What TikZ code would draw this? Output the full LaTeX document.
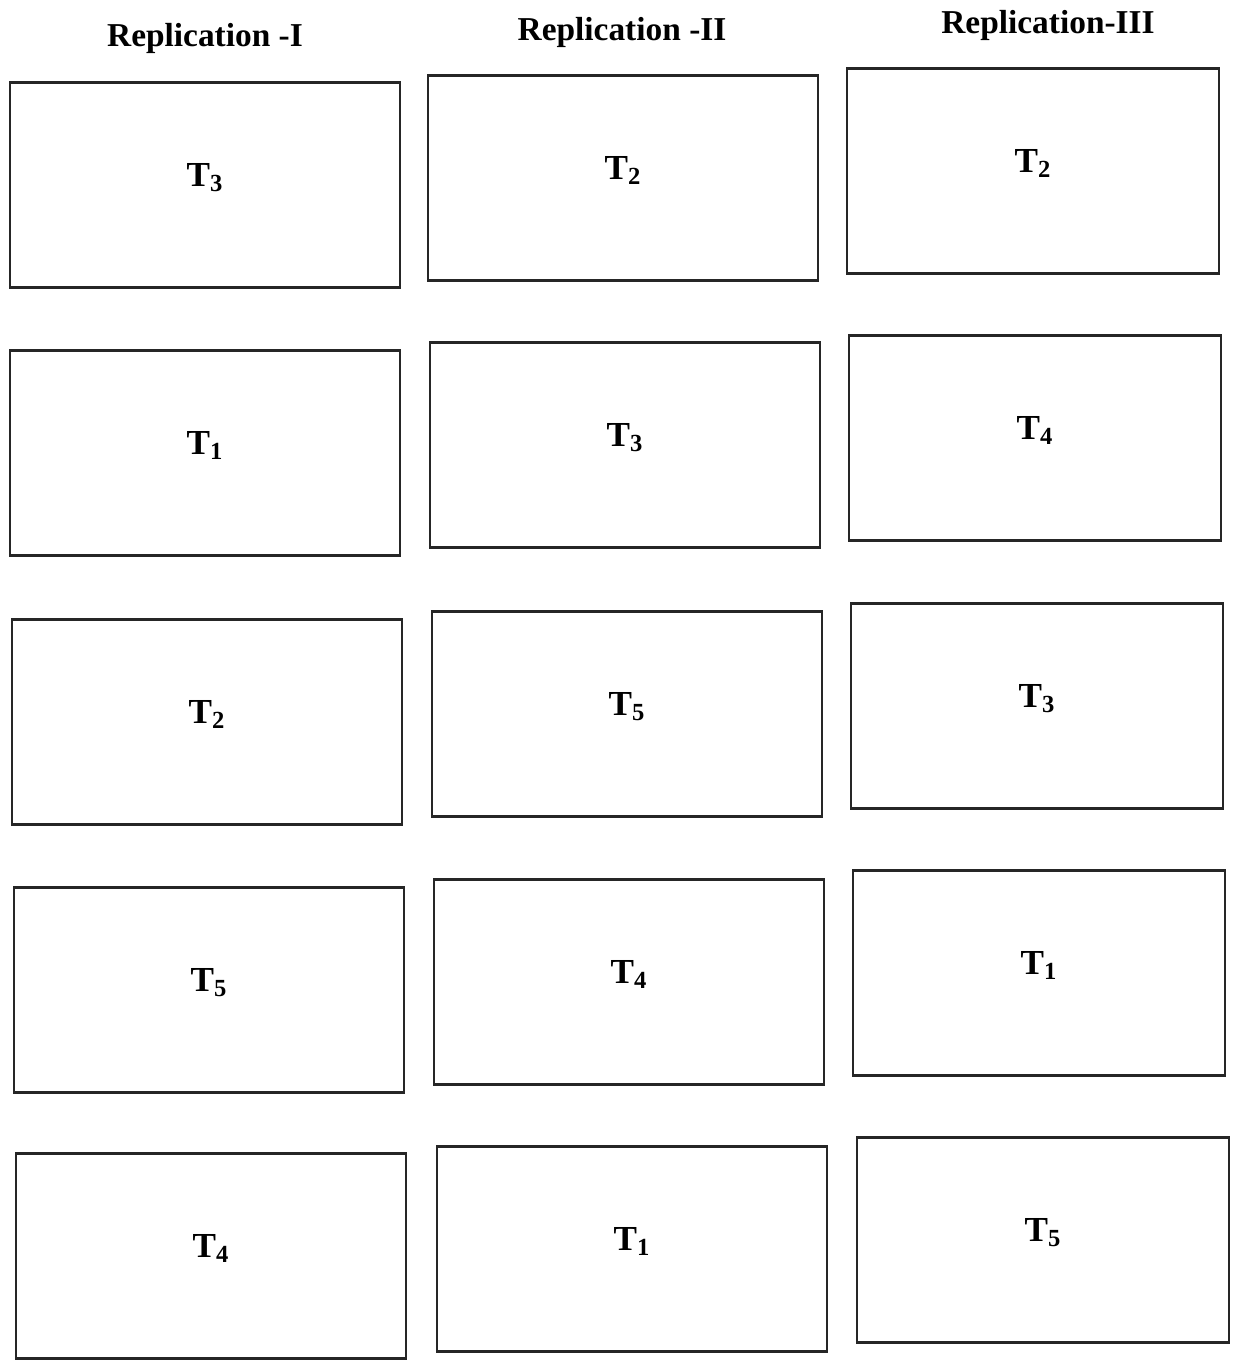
\documentclass[tikz,border=0pt]{standalone}
\usepackage{fontspec}
\setmainfont{Liberation Serif}
\usetikzlibrary{positioning}

\begin{document}
\begin{tikzpicture}[
	plot/.style={draw=black!85, line width=1.6pt, minimum width=7.8cm, minimum height=4.1cm, font=\fontsize{20}{24}\selectfont\bfseries, text depth=0.4cm, inner sep=0pt},
	head/.style={font=\fontsize{19}{23}\selectfont\bfseries, inner sep=0pt}]
	\useasboundingbox (0,0) rectangle (24.66,-27.2);
	% headings
	\node[head] (h1) at (4.10,-0.76) {Replication -I};
	\node[head] (h2) at (12.44,-0.64) {Replication -II};
	\node[head] (h3) at (20.96,-0.50) {Replication-III};
	% replication I
	\node[plot] (a1) at (4.10,-3.70) {T\textsubscript{3}};
	\node[plot] (a2) at (4.10,-9.06) {T\textsubscript{1}};
	\node[plot] (a3) at (4.14,-14.44) {T\textsubscript{2}};
	\node[plot] (a4) at (4.18,-19.80) {T\textsubscript{5}};
	\node[plot] (a5) at (4.22,-25.12) {T\textsubscript{4}};
	% replication II
	\node[plot] (b1) at (12.46,-3.56) {T\textsubscript{2}};
	\node[plot] (b2) at (12.50,-8.90) {T\textsubscript{3}};
	\node[plot] (b3) at (12.54,-14.28) {T\textsubscript{5}};
	\node[plot] (b4) at (12.58,-19.64) {T\textsubscript{4}};
	\node[plot] (b5) at (12.64,-24.98) {T\textsubscript{1}};
	% replication III
	\node[plot, minimum width=7.44cm] (c1) at (20.66,-3.42) {T\textsubscript{2}};
	\node[plot, minimum width=7.44cm] (c2) at (20.70,-8.76) {T\textsubscript{4}};
	\node[plot, minimum width=7.44cm] (c3) at (20.74,-14.12) {T\textsubscript{3}};
	\node[plot, minimum width=7.44cm] (c4) at (20.78,-19.46) {T\textsubscript{1}};
	\node[plot, minimum width=7.44cm] (c5) at (20.86,-24.80) {T\textsubscript{5}};
\end{tikzpicture}
\end{document}
